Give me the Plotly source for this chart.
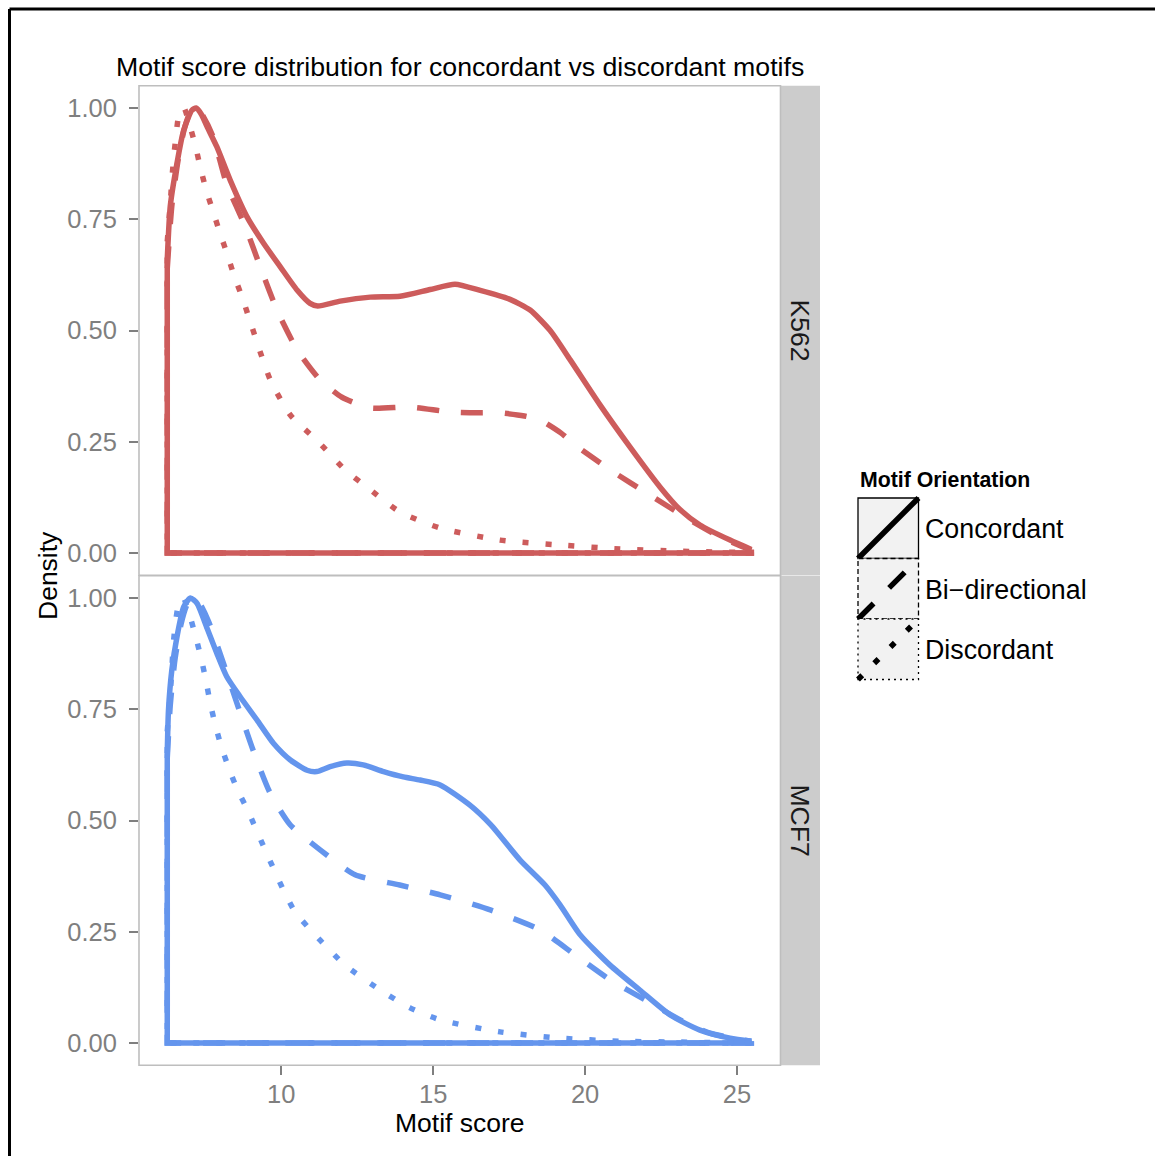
import plotly.graph_objects as go

W, H = 1155, 1156

# ---------------- data (scaled density) ----------------
cell_lines = ["K562", "MCF7"]
orientations = ["Concordant", "Bi\u2212directional", "Discordant"]

k562_concordant_x = [6.25, 6.35, 6.57, 6.79, 7.06, 7.2, 7.38, 7.56, 7.88, 8.32, 8.87, 9.42, 9.97, 10.52,
                     10.95, 11.2, 11.94, 12.93, 13.91, 14.9, 15.72, 16.55, 17.53, 18.19, 18.85, 19.51,
                     20.49, 21.48, 22.47, 23.13, 23.78, 24.77, 25.47]
k562_concordant_y = [0.66, 0.78, 0.876, 0.95, 0.995, 1.0, 0.985, 0.958, 0.913, 0.838, 0.756, 0.696, 0.643,
                     0.591, 0.561, 0.555, 0.566, 0.575, 0.577, 0.592, 0.604, 0.59, 0.57, 0.546, 0.5, 0.434,
                     0.333, 0.238, 0.148, 0.097, 0.063, 0.029, 0.008]

k562_bidir_x = [6.25, 6.4, 6.6, 6.8, 7.0, 7.2, 7.4, 7.76, 8.2, 8.82, 9.31, 9.86, 10.53, 11.28, 12.0,
                12.93, 14.24, 15.56, 16.5, 17.2, 18.0, 18.52, 19.2, 19.67, 20.82, 22.14, 23.45, 24.44, 25.47]
k562_bidir_y = [0.64, 0.78, 0.88, 0.95, 0.99, 1.0, 0.985, 0.935, 0.83, 0.733, 0.643, 0.546, 0.456, 0.389,
                0.35, 0.326, 0.328, 0.317, 0.315, 0.315, 0.308, 0.299, 0.27, 0.243, 0.187, 0.13, 0.074,
                0.036, 0.006]

k562_discordant_x = [6.25, 6.35, 6.40, 6.46, 6.54, 6.65, 6.8, 6.95, 7.17, 7.34, 7.53, 7.76, 7.99, 8.23,
                     8.46, 8.73, 8.96, 9.64, 10.3, 11.22, 12.1, 12.93, 13.91, 15.23, 17.2, 19.18, 21.15,
                     23.13, 25.47]
k562_discordant_y = [0.70, 0.786, 0.838, 0.887, 0.939, 0.99, 1.0, 0.97, 0.917, 0.866, 0.816, 0.767, 0.718,
                     0.67, 0.621, 0.572, 0.524, 0.389, 0.31, 0.25, 0.187, 0.142, 0.092, 0.056, 0.029, 0.018,
                     0.009, 0.004, 0.001]

mcf7_concordant_x = [6.25, 6.29, 6.40, 6.57, 6.79, 7.01, 7.23, 7.56, 7.88, 8.21, 8.65, 9.2, 9.75, 10.3,
                     10.85, 11.17, 11.61, 12.16, 12.7, 13.37, 14.02, 14.57, 15.23, 16.2, 16.9, 17.86, 18.68,
                     19.18, 19.84, 20.82, 21.8, 22.8, 23.78, 24.77, 25.47]
mcf7_concordant_y = [0.651, 0.748, 0.838, 0.913, 0.98, 1.0, 0.988, 0.932, 0.876, 0.823, 0.778, 0.726, 0.673,
                     0.636, 0.613, 0.61, 0.621, 0.629, 0.625, 0.61, 0.598, 0.591, 0.58, 0.535, 0.49, 0.411,
                     0.355, 0.31, 0.243, 0.175, 0.119, 0.063, 0.029, 0.011, 0.004]

mcf7_bidir_x = [6.25, 6.35, 6.5, 6.7, 6.9, 7.1, 7.3, 7.61, 8.1, 8.6, 9.09, 9.64, 10.3, 11.28, 12.43, 13.9,
                15.23, 16.88, 18.52, 19.67, 20.82, 21.97, 23.13, 24.11, 25.47]
mcf7_bidir_y = [0.64, 0.76, 0.86, 0.94, 0.985, 1.0, 0.99, 0.947, 0.853, 0.752, 0.655, 0.561, 0.49, 0.434,
                0.378, 0.355, 0.333, 0.299, 0.254, 0.198, 0.142, 0.097, 0.052, 0.022, 0.004]

mcf7_discordant_x = [6.25, 6.35, 6.40, 6.44, 6.51, 6.64, 6.78, 6.95, 7.17, 7.36, 7.52, 7.66, 7.83, 8.03,
                     8.28, 8.56, 8.89, 9.47, 10.07, 10.46, 11.28, 12.1, 13.26, 14.24, 15.23, 17.2, 19.18,
                     21.15, 23.13, 25.47]
mcf7_discordant_y = [0.70, 0.787, 0.838, 0.888, 0.939, 0.99, 1.0, 0.97, 0.917, 0.866, 0.816, 0.765, 0.715,
                     0.666, 0.617, 0.569, 0.524, 0.434, 0.344, 0.294, 0.231, 0.175, 0.119, 0.079, 0.052,
                     0.025, 0.011, 0.004, 0.002, 0.0]

x_ticks = [10, 15, 20, 25]
y_ticks = [0, 0.25, 0.5, 0.75, 1.0]
y_ticktext = ["0.00", "0.25", "0.50", "0.75", "1.00"]

# ---------------- styles ----------------
FONT = "Liberation Sans, Arial, Helvetica, sans-serif"
cell_colors = {"K562": "#CD5C5C", "MCF7": "#6495ED"}
orient_dash = {"Concordant": "solid", "Bi\u2212directional": "22px,22px", "Discordant": "6px,17px"}
LW = 5.5


def P(px, py):
    return px / W, 1 - py / H


series = [
    ("K562", "Concordant", k562_concordant_x, k562_concordant_y),
    ("K562", "Bi\u2212directional", k562_bidir_x, k562_bidir_y),
    ("K562", "Discordant", k562_discordant_x, k562_discordant_y),
    ("MCF7", "Concordant", mcf7_concordant_x, mcf7_concordant_y),
    ("MCF7", "Bi\u2212directional", mcf7_bidir_x, mcf7_bidir_y),
    ("MCF7", "Discordant", mcf7_discordant_x, mcf7_discordant_y),
]

fig = go.Figure()
for cell, orient, xs, ys in series:
    xa, ya = ("x", "y") if cell == "K562" else ("x2", "y2")
    col = cell_colors[cell]
    dash = orient_dash[orient]
    # closing outline of the density polygon (baseline + vertical edge)
    fig.add_trace(go.Scatter(
        x=[xs[-1], xs[-1], xs[0], xs[0]], y=[ys[-1], 0, 0, ys[0]],
        mode="lines", line=dict(color=col, width=LW, dash=dash),
        xaxis=xa, yaxis=ya, showlegend=False, hoverinfo="skip"))
    fig.add_trace(go.Scatter(
        x=xs, y=ys, mode="lines", name=orient,
        line=dict(color=col, width=LW, dash=dash, shape="spline", smoothing=0.6),
        xaxis=xa, yaxis=ya, showlegend=False, hoverinfo="skip"))

x_dom = [139 / W, 780.5 / W]
x_range = [5.32, 26.43]
y_range = [-0.05, 1.05]
tick_common = dict(ticks="outside", ticklen=9, tickwidth=2.2, tickcolor="#7F7F7F",
                   tickfont=dict(family=FONT, size=25.5, color="#7F7F7F"),
                   showgrid=False, zeroline=False, showline=False)

layout = dict(
    width=W, height=H, autosize=False,
    margin=dict(l=0, r=0, t=0, b=0, pad=0),
    paper_bgcolor="white", plot_bgcolor="white",
    font=dict(family=FONT, color="black"),
    xaxis=dict(domain=x_dom, range=x_range, anchor="y", showticklabels=False, ticks="",
               showgrid=False, zeroline=False, showline=False),
    xaxis2=dict(domain=x_dom, range=x_range, anchor="y2", tickvals=x_ticks,
                ticklabelstandoff=-3, **tick_common),
    yaxis=dict(domain=[1 - 575.25 / H, 1 - 85.75 / H], range=y_range, anchor="x",
               tickvals=y_ticks, ticktext=y_ticktext, ticklabelstandoff=7, **tick_common),
    yaxis2=dict(domain=[1 - 1065.25 / H, 1 - 575.75 / H], range=y_range, anchor="x2",
                tickvals=y_ticks, ticktext=y_ticktext, ticklabelstandoff=7, **tick_common),
)
fig.update_layout(**layout)

shapes = []
# panel borders
for xr, yr in [("x domain", "y domain"), ("x2 domain", "y2 domain")]:
    shapes.append(dict(type="rect", xref=xr, yref=yr, x0=0, x1=1, y0=0, y1=1,
                       line=dict(color="#BEBEBE", width=1.6), layer="above"))
# facet strips
for top, bot in [(85.75, 575.25), (575.75, 1065.25)]:
    x0, y0 = P(780.5, bot)
    x1, y1 = P(820, top)
    shapes.append(dict(type="rect", xref="paper", yref="paper", x0=x0, x1=x1, y0=y0, y1=y1,
                       fillcolor="#CCCCCC", line=dict(width=0), layer="below"))
# outer frame
fx0, fy0 = P(9.5, 9)
shapes.append(dict(type="line", xref="paper", yref="paper", x0=fx0, y0=fy0, x1=1.02, y1=fy0,
                   line=dict(color="black", width=3)))
shapes.append(dict(type="line", xref="paper", yref="paper", x0=fx0, y0=fy0, x1=fx0, y1=-0.02,
                   line=dict(color="black", width=3)))

# legend keys
key_dash_border = {"Concordant": "solid", "Bi\u2212directional": "5px,3px", "Discordant": "2px,4px"}
key_top = [498, 558.5, 619]
for orient, kt in zip(orientations, key_top):
    kx0, ky0 = P(858, kt + 60.5)
    kx1, ky1 = P(918.5, kt)
    shapes.append(dict(type="rect", xref="paper", yref="paper", x0=kx0, x1=kx1, y0=ky0, y1=ky1,
                       fillcolor="#F2F2F2", line=dict(color="black", width=1.3,
                                                      dash=key_dash_border[orient])))
    shapes.append(dict(type="line", xref="paper", yref="paper", x0=kx0, y0=ky0, x1=kx1, y1=ky1,
                       line=dict(color="black", width=LW, dash=orient_dash[orient])))
fig.update_layout(shapes=shapes)

ann = []


def text(px, py, s, size=26, xanchor="center", angle=0, bold=False, color="black"):
    x, y = P(px, py)
    ann.append(dict(x=x, y=y, xref="paper", yref="paper", text=("<b>%s</b>" % s) if bold else s,
                    showarrow=False, xanchor=xanchor, yanchor="middle", textangle=angle,
                    font=dict(family=FONT, size=size, color=color)))


text(460, 67, "Motif score distribution for concordant vs discordant motifs", size=26.7)
text(459.5, 1123, "Motif score", size=26.5)
text(48, 576, "Density", size=26.5, angle=-90)
text(800, 330.5, cell_lines[0], size=26.5, angle=90, color="#1A1A1A")
text(800, 820.5, cell_lines[1], size=26.5, angle=90, color="#1A1A1A")
text(858, 480, "Motif Orientation", size=21.3, xanchor="left", bold=True)
for orient, kt in zip(orientations, key_top):
    text(923, kt + 31, orient, size=26.8, xanchor="left")
fig.update_layout(annotations=ann)

fig.write_html("out.html")
